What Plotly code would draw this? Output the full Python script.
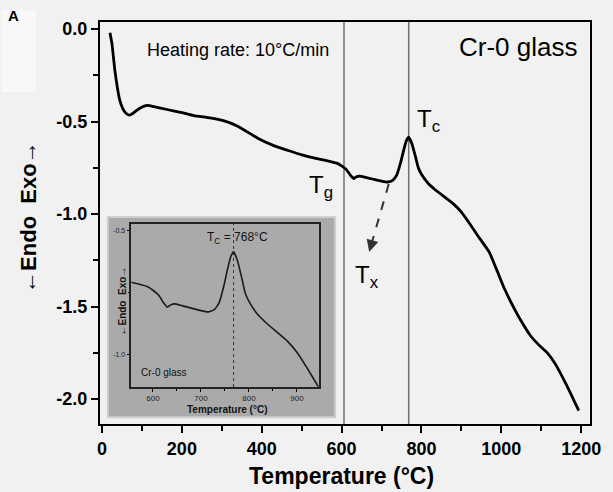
import plotly.graph_objects as go

# ---- data ----
temperature = [20, 25, 32, 38, 44, 52, 60, 68, 78, 90, 104, 115, 130, 163, 200, 230, 270, 304,
               340, 390, 430, 464, 500, 538, 570, 588, 600, 612, 622, 630, 636, 645, 660, 680,
               700, 715, 728, 738, 748, 756, 762, 768, 776, 785, 792, 800, 817, 835, 859,
               880, 900, 920, 941, 970, 990, 1007, 1032, 1050, 1073, 1095, 1114, 1135, 1164,
               1180, 1194]
heat_flow = [-0.02, -0.08, -0.22, -0.31, -0.38, -0.43, -0.455, -0.465, -0.455, -0.435, -0.418,
             -0.413, -0.42, -0.435, -0.452, -0.468, -0.48, -0.495, -0.525, -0.59, -0.63, -0.655,
             -0.68, -0.70, -0.715, -0.725, -0.74, -0.76, -0.79, -0.808, -0.80, -0.795, -0.802,
             -0.812, -0.822, -0.827, -0.818, -0.79, -0.72, -0.65, -0.605, -0.585, -0.62, -0.69,
             -0.75, -0.785, -0.835, -0.87, -0.91, -0.945, -0.99, -1.05, -1.117, -1.207,
             -1.31, -1.40, -1.51, -1.58, -1.658, -1.71, -1.748, -1.81, -1.928, -2.0, -2.063]

tg_line = 606
tc_line = 768
tx_arrow_start = (718, -0.838)
tx_arrow_end = (669, -1.205)

x_ticks = [0, 200, 400, 600, 800, 1000, 1200]
y_ticks = [0.0, -0.5, -1.0, -1.5, -2.0]
y_ticklabels = ["0.0", "-0.5", "-1.0", "-1.5", "-2.0"]
inset_x_ticks = [600, 700, 800, 900]
inset_y_ticks = [-0.5, -1.0]
inset_y_ticklabels = ["-0.5", "-1.0"]

FONT = "Liberation Sans, Arial, sans-serif"
BG = "#f1f1f1"

fig = go.Figure()
fig.add_trace(go.Scatter(x=temperature, y=heat_flow, mode="lines",
                         line=dict(color="black", width=2.8, shape="spline", smoothing=0.4),
                         showlegend=False, hoverinfo="skip"))
fig.add_trace(go.Scatter(x=temperature, y=heat_flow, mode="lines", xaxis="x2", yaxis="y2",
                         line=dict(color="#1a1a1a", width=1.6, shape="spline", smoothing=0.4),
                         showlegend=False, hoverinfo="skip"))

fig.update_layout(
    width=613, height=492, autosize=False,
    margin=dict(l=100, r=15, t=22, b=68),
    paper_bgcolor=BG, plot_bgcolor="rgba(0,0,0,0)",
    font=dict(family=FONT, color="black"),
    xaxis=dict(range=[-5, 1222], tickvals=x_ticks, ticks="outside", ticklen=7, tickwidth=2,
               tickcolor="black", showline=True, linewidth=2, linecolor="black", mirror=True,
               showgrid=False, zeroline=False,
               tickfont=dict(size=18, family=FONT, weight="bold"),
               minor=dict(dtick=100, tick0=0, ticks="outside", ticklen=5, tickwidth=2,
                          tickcolor="black"),
               domain=[0, 1]),
    yaxis=dict(range=[-2.135, 0.038], tickvals=y_ticks, ticktext=y_ticklabels, ticks="outside",
               ticklen=7, tickwidth=2, tickcolor="black", showline=True, linewidth=2,
               linecolor="black", mirror=True, showgrid=False, zeroline=False,
               tickfont=dict(size=18, family=FONT, weight="bold"),
               minor=dict(dtick=0.25, tick0=0, ticks="outside", ticklen=5, tickwidth=2,
                          tickcolor="black"),
               domain=[0, 1]),
    xaxis2=dict(domain=[0.064, 0.446], anchor="y2", range=[555, 945], tickvals=inset_x_ticks,
                ticks="outside", ticklen=3, tickwidth=1, tickcolor="black", showline=True,
                linewidth=1.5, linecolor="#222", mirror=True, showgrid=False, zeroline=False,
                tickfont=dict(size=8, family=FONT, color="#222"),
                minor=dict(dtick=50, tick0=0, ticks="outside", ticklen=2, tickwidth=1,
                           tickcolor="black")),
    yaxis2=dict(domain=[0.092, 0.4975], anchor="x2", range=[-1.13, -0.473],
                tickvals=inset_y_ticks, ticktext=inset_y_ticklabels, ticks="outside", ticklen=3,
                tickwidth=1, tickcolor="black", showline=True, linewidth=1.5, linecolor="#222",
                mirror=True, showgrid=False, zeroline=False,
                tickfont=dict(size=7, family=FONT, color="#222"),
                minor=dict(dtick=0.25, tick0=0, ticks="outside", ticklen=2, tickwidth=1,
                           tickcolor="black")),
)

shapes = [
    dict(type="rect", xref="paper", yref="paper", x0=-0.2008, x1=-0.1305, y0=0.826, y1=1.03,
         fillcolor="#f8f8f8", line=dict(width=0), layer="below"),
    dict(type="rect", xref="paper", yref="paper", x0=0.016, x1=0.480, y0=0.017, y1=0.515,
         fillcolor="#aaaaaa", line=dict(color="#cfcfcf", width=2), layer="below"),
    dict(type="line", xref="x", yref="y domain", x0=tg_line, x1=tg_line, y0=0, y1=1,
         line=dict(color="#707070", width=1.5), layer="below"),
    dict(type="line", xref="x", yref="y domain", x0=tc_line, x1=tc_line, y0=0, y1=1,
         line=dict(color="#707070", width=1.5), layer="below"),
    dict(type="line", xref="x2", yref="y2 domain", x0=tc_line, x1=tc_line, y0=0, y1=1,
         line=dict(color="#333", width=1, dash="dot"), layer="below"),
    dict(type="line", xref="x", yref="y", x0=tx_arrow_start[0], y0=tx_arrow_start[1],
         x1=tx_arrow_end[0] + 4, y1=tx_arrow_end[1] + 0.03,
         line=dict(color="#333", width=2, dash="dash")),
]
fig.update_layout(shapes=shapes)

ann = [
    dict(x=tx_arrow_end[0], y=tx_arrow_end[1], xref="x", yref="y", ax=tx_arrow_end[0] + 8,
         ay=tx_arrow_end[1] + 0.06, axref="x", ayref="y", text="", showarrow=True,
         arrowhead=2, arrowsize=1.2, arrowwidth=2, arrowcolor="#333"),
    dict(x=-0.176, y=1.015, xref="paper", yref="paper", text="<b>A</b>", showarrow=False,
         font=dict(size=15, family=FONT), xanchor="center", yanchor="middle"),
    dict(x=0.281, y=0.930, xref="paper", yref="paper", text="Heating rate: 10°C/min",
         showarrow=False, font=dict(size=18, family=FONT), xanchor="center", yanchor="middle"),
    dict(x=0.978, y=0.938, xref="paper", yref="paper", text="Cr-0 glass", showarrow=False,
         font=dict(size=26, family=FONT), xanchor="right", yanchor="middle"),
    dict(x=0.452, y=0.592, xref="paper", yref="paper", text="T<sub>g</sub>", showarrow=False,
         font=dict(size=24, family=FONT), xanchor="center", yanchor="middle"),
    dict(x=0.671, y=0.756, xref="paper", yref="paper", text="T<sub>c</sub>", showarrow=False,
         font=dict(size=24, family=FONT), xanchor="center", yanchor="middle"),
    dict(x=0.544, y=0.366, xref="paper", yref="paper", text="T<sub>x</sub>", showarrow=False,
         font=dict(size=24, family=FONT), xanchor="center", yanchor="middle"),
    dict(x=0.492, y=-0.129, xref="paper", yref="paper", text="<b>Temperature (°C)</b>",
         showarrow=False, font=dict(size=23, family=FONT), xanchor="center", yanchor="middle"),
    dict(x=-0.145, y=0.515, xref="paper", yref="paper", text="<b>←Endo  Exo→</b>",
         textangle=-90, showarrow=False, font=dict(size=22, family=FONT),
         xanchor="center", yanchor="middle"),
    # inset texts
    dict(x=0.281, y=0.463, xref="paper", yref="paper", text="T<sub>C</sub> = 768°C",
         showarrow=False, font=dict(size=12, family=FONT, color="#111"),
         xanchor="center", yanchor="middle"),
    dict(x=0.080, y=0.129, xref="paper", yref="paper", text="Cr-0 glass", showarrow=False,
         font=dict(size=10, family=FONT, color="#111"), xanchor="left", yanchor="middle"),
    dict(x=0.261, y=0.035, xref="paper", yref="paper", text="<b>Temperature (°C)</b>",
         showarrow=False, font=dict(size=10, family=FONT, color="#111"),
         xanchor="center", yanchor="middle"),
    dict(x=0.046, y=0.306, xref="paper", yref="paper", text="<b>←Endo  Exo→</b>",
         textangle=-90, showarrow=False, font=dict(size=10, family=FONT, color="#111"),
         xanchor="center", yanchor="middle"),
]
fig.update_layout(annotations=ann)

fig.write_html("out.html", config={"displayModeBar": False},
               post_script="document.body.style.margin='0px';")
